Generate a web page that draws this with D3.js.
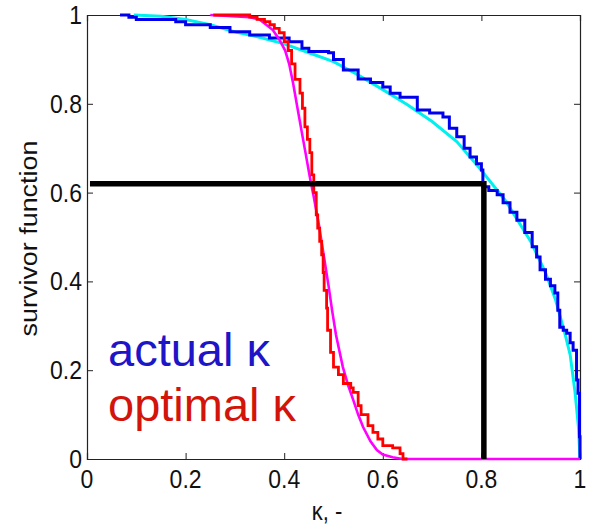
<!DOCTYPE html>
<html><head><meta charset="utf-8">
<script src="https://cdn.jsdelivr.net/npm/d3@7"></script>
<style>body{margin:0;background:#fff}svg{display:block}</style>
</head><body>
<script>
// ---- data ----
const xTicks = [0, 0.2, 0.4, 0.6, 0.8, 1];
const yTicks = [0, 0.2, 0.4, 0.6, 0.8, 1];
const xTickLabels = ["0", "0.2", "0.4", "0.6", "0.8", "1"];
const yTickLabels = ["0", "0.2", "0.4", "0.6", "0.8", "1"];

// empirical survivor function of actual kappa (step)
const actualX = [0.067,0.085,0.10,0.18,0.20,0.25,0.29,0.33,0.37,0.41,0.436,0.45,0.49,0.50,0.52,0.55,0.575,0.60,0.615,0.635,0.67,0.695,0.722,0.735,0.75,0.765,0.777,0.79,0.80,0.803,0.815,0.832,0.844,0.858,0.872,0.888,0.903,0.912,0.919,0.93,0.94,0.949,0.955,0.959,0.966,0.973,0.98,0.986,0.993,0.996,0.999,1.0];
const actualY = [1.0,0.995,0.99,0.985,0.978,0.972,0.962,0.955,0.948,0.94,0.925,0.918,0.915,0.9,0.876,0.856,0.848,0.838,0.824,0.815,0.786,0.779,0.77,0.745,0.726,0.70,0.68,0.665,0.651,0.613,0.605,0.595,0.577,0.556,0.538,0.51,0.478,0.455,0.426,0.405,0.39,0.374,0.335,0.297,0.29,0.283,0.262,0.245,0.178,0.148,0.05,0.0];

// fitted survivor function of actual kappa (smooth)
const actualFitX = [0.095,0.15,0.2,0.25,0.3,0.35,0.4,0.45,0.5,0.55,0.6,0.65,0.7,0.75,0.8,0.85,0.9,0.93,0.95,0.97,0.98,0.99,0.997,1.0];
const actualFitY = [1.0,0.997,0.99,0.978,0.962,0.95,0.935,0.915,0.895,0.865,0.832,0.798,0.76,0.715,0.65,0.58,0.49,0.42,0.36,0.28,0.235,0.15,0.07,0.0];

// empirical survivor function of optimal kappa (step)
const optimalX = [0.256,0.33,0.345,0.36,0.371,0.38,0.39,0.40,0.408,0.415,0.422,0.432,0.437,0.442,0.447,0.452,0.456,0.46,0.465,0.468,0.472,0.476,0.479,0.481,0.486,0.488,0.494,0.50,0.51,0.52,0.535,0.54,0.55,0.556,0.57,0.58,0.59,0.60,0.62,0.635,0.641,0.65];
const optimalY = [1.0,0.995,0.99,0.985,0.978,0.97,0.96,0.94,0.92,0.89,0.855,0.824,0.79,0.748,0.72,0.69,0.64,0.60,0.55,0.52,0.49,0.46,0.42,0.38,0.34,0.29,0.24,0.207,0.19,0.17,0.16,0.15,0.12,0.10,0.075,0.06,0.045,0.03,0.025,0.012,0.0,0.0];

// fitted survivor function of optimal kappa (smooth)
const optimalFitX = [0.25,0.33,0.35,0.377,0.39,0.402,0.41,0.418,0.427,0.436,0.444,0.452,0.46,0.47,0.48,0.49,0.497,0.505,0.519,0.53,0.54,0.55,0.56,0.575,0.588,0.60,0.62,0.64,1.0];
const optimalFitY = [1.0,0.995,0.99,0.966,0.945,0.92,0.89,0.847,0.79,0.734,0.685,0.635,0.59,0.53,0.46,0.39,0.336,0.28,0.207,0.165,0.133,0.10,0.072,0.04,0.02,0.01,0.004,0.0,0.0];

// reference guide lines (kappa = 0.805, S = 0.62)
const guideX = [0.006, 0.805, 0.805];
const guideY = [0.62, 0.62, 0.0];

const legendLabels = ["actual \u03BA", "optimal \u03BA"];
const xLabel = "\u03BA, -";
const yLabel = "survivor function";

// ---- layout ----
const W = 591, H = 524;
const L = 87, R = 580, T = 15, B = 459;

const svg = d3.select("body").append("svg").attr("width", W).attr("height", H);
const x = d3.scaleLinear().domain([0, 1]).range([L, R]);
const y = d3.scaleLinear().domain([0, 1]).range([B, T]);

const zip = (xs, ys) => xs.map((v, i) => [v, ys[i]]);
const line = d3.line().x(d => x(d[0])).y(d => y(d[1]));
const stepLine = d3.line().x(d => x(d[0])).y(d => y(d[1])).curve(d3.curveStepAfter);

const axisColor = "#222";
const font = "'Liberation Sans', Arial, sans-serif";

// axes box with inward ticks
const axB = d3.axisBottom(x).tickValues(xTicks).tickSize(-6).tickFormat("");
const axT = d3.axisTop(x).tickValues(xTicks).tickSize(-6).tickFormat("");
const axL = d3.axisLeft(y).tickValues(yTicks).tickSize(-6).tickFormat("");
const axR = d3.axisRight(y).tickValues(yTicks).tickSize(-6).tickFormat("");
svg.append("g").attr("transform", `translate(0,${B})`).call(axB);
svg.append("g").attr("transform", `translate(0,${T})`).call(axT);
svg.append("g").attr("transform", `translate(${L},0)`).call(axL);
svg.append("g").attr("transform", `translate(${R},0)`).call(axR);
svg.selectAll(".domain").attr("stroke", axisColor).attr("stroke-width", 1.2);
svg.selectAll(".tick line").attr("stroke", axisColor).attr("stroke-width", 1);

// tick labels
svg.append("g").selectAll("text").data(xTicks).join("text")
  .attr("transform", (d) => `translate(${x(d)},488) scale(1,1.1)`)
  .attr("text-anchor", "middle")
  .attr("font-family", font).attr("font-size", 23).attr("fill", "#111")
  .text((d, i) => xTickLabels[i]);
svg.append("g").selectAll("text").data(yTicks).join("text")
  .attr("transform", (d) => `translate(82,${y(d) + 9}) scale(1,1.1)`)
  .attr("text-anchor", "end")
  .attr("font-family", font).attr("font-size", 23).attr("fill", "#111")
  .text((d, i) => yTickLabels[i]);

// axis labels
svg.append("text")
  .attr("transform", `translate(327,520) scale(1,1.15)`)
  .attr("text-anchor", "middle")
  .attr("font-family", font).attr("font-size", 22).attr("fill", "#111")
  .text(xLabel);
svg.append("text")
  .attr("transform", `translate(37,238.5) scale(1,1.17) rotate(-90)`)
  .attr("text-anchor", "middle")
  .attr("font-family", font).attr("font-size", 23).attr("fill", "#111")
  .text(yLabel);

// curves
svg.append("path").datum(zip(actualFitX, actualFitY)).attr("d", line)
  .attr("fill", "none").attr("stroke", "#00f0f0").attr("stroke-width", 3);
svg.append("path").datum(zip(actualX, actualY)).attr("d", stepLine)
  .attr("fill", "none").attr("stroke", "#0000ee").attr("stroke-width", 3);
svg.append("path").datum(zip(optimalFitX, optimalFitY)).attr("d", line)
  .attr("fill", "none").attr("stroke", "#ff00ff").attr("stroke-width", 2.6);
svg.append("path").datum(zip(optimalX, optimalY)).attr("d", stepLine)
  .attr("fill", "none").attr("stroke", "#ff0000").attr("stroke-width", 2.8);

// guide lines
svg.append("path").datum(zip(guideX, guideY)).attr("d", line)
  .attr("fill", "none").attr("stroke", "#000").attr("stroke-width", 5.5)
  .attr("stroke-linejoin", "miter");

// legend text
const legendColors = ["#1e14c8", "#d2140a"];
svg.append("g").selectAll("text").data(legendLabels).join("text")
  .attr("x", 108).attr("y", (d, i) => 366 + i * 55)
  .attr("font-family", font).attr("font-size", 47)
  .attr("fill", (d, i) => legendColors[i])
  .text(d => d);
</script>
</body></html>
